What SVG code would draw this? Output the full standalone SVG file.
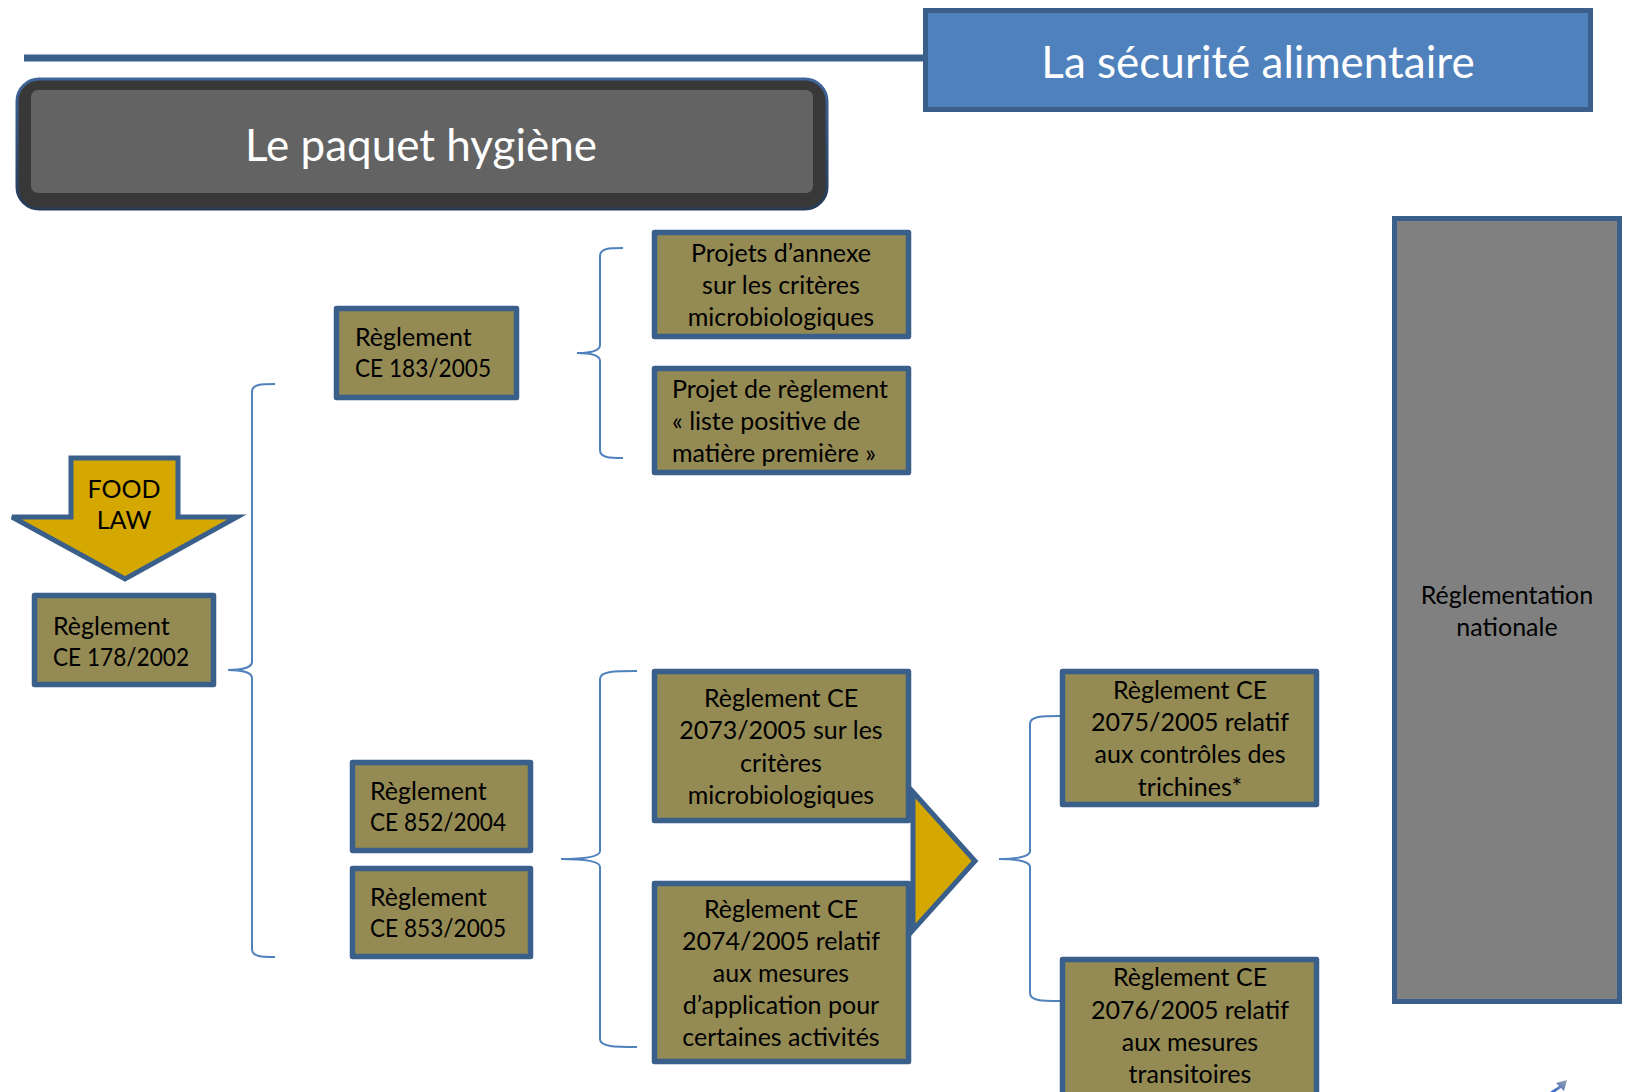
<svg xmlns="http://www.w3.org/2000/svg" width="1627" height="1092" viewBox="0 0 1627 1092">
<defs>
<style>
.box{fill:#948A54;stroke:#3A5F8B;stroke-width:5.5;stroke-linejoin:round}
.gold{fill:#D4A800;stroke:#3A5F8B;stroke-width:5;stroke-linejoin:miter}
.brace{fill:none;stroke:#4F81BD;stroke-width:2}
.t{font-family:Lato,"Noto Sans",sans-serif;font-size:25px;fill:#000}
.c{text-anchor:middle}
.title{font-family:Lato,"Noto Sans",sans-serif;font-size:44px;fill:#fff;text-anchor:middle}
</style>
<linearGradient id="sm" x1="0" y1="1" x2="1" y2="0">
<stop offset="0" stop-color="#2D62C8"/>
<stop offset="1" stop-color="#9AA3AE"/>
</linearGradient>
<linearGradient id="pb" x1="0" y1="0" x2="0" y2="1">
<stop offset="0" stop-color="#3F659A"/>
<stop offset="1" stop-color="#263A55"/>
</linearGradient>
</defs>
<rect width="1627" height="1092" fill="#fff"/>

<g id="header">
<line x1="24" y1="58" x2="924" y2="58" stroke="#3A5F8B" stroke-width="7"/>
</g>

<g id="securite">
<rect x="925.5" y="10.5" width="665" height="99" fill="#4F81BD" stroke="#3A5F8B" stroke-width="5"/>
<text class="title" x="1258" y="78">La sécurité alimentaire</text>
</g>

<g id="paquet">
<rect x="17" y="79" width="810" height="130" rx="22" fill="#383838" stroke="url(#pb)" stroke-width="3"/>
<rect x="31" y="90" width="782" height="103" rx="7" fill="#636363"/>
<text class="title" x="421" y="161">Le paquet hygiène</text>
</g>

<g id="connectors">
<path class="brace" d="M275,384 C262,384 252,384 252,392 L252,662 C252,668 240,670 228,670 C240,670 252,672 252,678 L252,949 C252,957 262,957 275,957"/>
<path class="brace" d="M623,248 C610,248 600,248 600,256 L600,345 C600,351 590,353 577,353 C590,353 600,355 600,361 L600,450 C600,458 610,458 623,458"/>
<path class="brace" d="M637,671 C615,671 600,671 600,679 L600,851 C600,857 585,859 561,859 C585,859 600,861 600,867 L600,1039 C600,1047 615,1047 637,1047"/>
<path class="brace" d="M1060,716 C1042,716 1030,716 1030,724 L1030,851 C1030,857 1015,859 999,859 C1015,859 1030,861 1030,867 L1030,993 C1030,1001 1042,1001 1060,1001"/>
</g>

<g id="foodlaw">
<polygon class="gold" points="71,458 178,458 178,517 237,517 125,579 12,517 71,517"/>
<text class="t c" x="124" y="498">FOOD</text>
<text class="t c" x="124" y="529">LAW</text>
</g>

<g id="r178">
<rect class="box" x="34.5" y="595.5" width="179" height="89"/>
<text class="t" x="53" y="635">Règlement</text>
<text class="t" x="53" y="666" textLength="136" lengthAdjust="spacingAndGlyphs">CE 178/2002</text>
</g>

<g id="r183">
<rect class="box" x="336.5" y="308.5" width="180" height="89"/>
<text class="t" x="355" y="346">Règlement</text>
<text class="t" x="355" y="377" textLength="136" lengthAdjust="spacingAndGlyphs">CE 183/2005</text>
</g>

<g id="annexe">
<rect class="box" x="654.5" y="232.5" width="254" height="104"/>
<text class="t c" x="781" y="262">Projets d’annexe</text>
<text class="t c" x="781" y="294">sur les critères</text>
<text class="t c" x="781" y="326">microbiologiques</text>
</g>

<g id="liste">
<rect class="box" x="654.5" y="368.5" width="254" height="104"/>
<text class="t" x="672" y="398">Projet de règlement</text>
<text class="t" x="672" y="430">« liste positive de</text>
<text class="t" x="672" y="462">matière première »</text>
</g>

<g id="r852">
<rect class="box" x="352.5" y="762.5" width="178" height="88"/>
<text class="t" x="370" y="800">Règlement</text>
<text class="t" x="370" y="831" textLength="136" lengthAdjust="spacingAndGlyphs">CE 852/2004</text>
</g>

<g id="r853">
<rect class="box" x="352.5" y="868.5" width="178" height="88"/>
<text class="t" x="370" y="906">Règlement</text>
<text class="t" x="370" y="937" textLength="136" lengthAdjust="spacingAndGlyphs">CE 853/2005</text>
</g>

<g id="triangle">
<polygon class="gold" points="913,792 975,861 913,930"/>
</g>

<g id="r2073">
<rect class="box" x="654.5" y="671.5" width="254" height="149"/>
<text class="t c" x="781" y="707">Règlement CE</text>
<text class="t c" x="781" y="739">2073/2005 sur les</text>
<text class="t c" x="781" y="772">critères</text>
<text class="t c" x="781" y="804">microbiologiques</text>
</g>

<g id="r2074">
<rect class="box" x="654.5" y="883.5" width="254" height="178"/>
<text class="t c" x="781" y="918">Règlement CE</text>
<text class="t c" x="781" y="950">2074/2005 relatif</text>
<text class="t c" x="781" y="982">aux mesures</text>
<text class="t c" x="781" y="1014">d’application pour</text>
<text class="t c" x="781" y="1046">certaines activités</text>
</g>

<g id="r2075">
<rect class="box" x="1062.5" y="671.5" width="254" height="133"/>
<text class="t c" x="1190" y="699">Règlement CE</text>
<text class="t c" x="1190" y="731">2075/2005 relatif</text>
<text class="t c" x="1190" y="763">aux contrôles des</text>
<text class="t c" x="1190" y="796">trichines*</text>
</g>

<g id="r2076">
<rect class="box" x="1062.5" y="959.5" width="254" height="140"/>
<text class="t c" x="1190" y="986">Règlement CE</text>
<text class="t c" x="1190" y="1019">2076/2005 relatif</text>
<text class="t c" x="1190" y="1051">aux mesures</text>
<text class="t c" x="1190" y="1083">transitoires</text>
</g>

<g id="nationale">
<rect x="1394.5" y="218.5" width="225" height="783" fill="#808080" stroke="#3A5F8B" stroke-width="5"/>
<text class="t c" x="1507" y="604">Réglementation</text>
<text class="t c" x="1507" y="636">nationale</text>
</g>

<g id="corner">
<polygon points="1550,1092 1559,1086 1556,1083 1567,1080 1564,1091 1561,1088 1555,1092" fill="url(#sm)"/>
</g>
</svg>
